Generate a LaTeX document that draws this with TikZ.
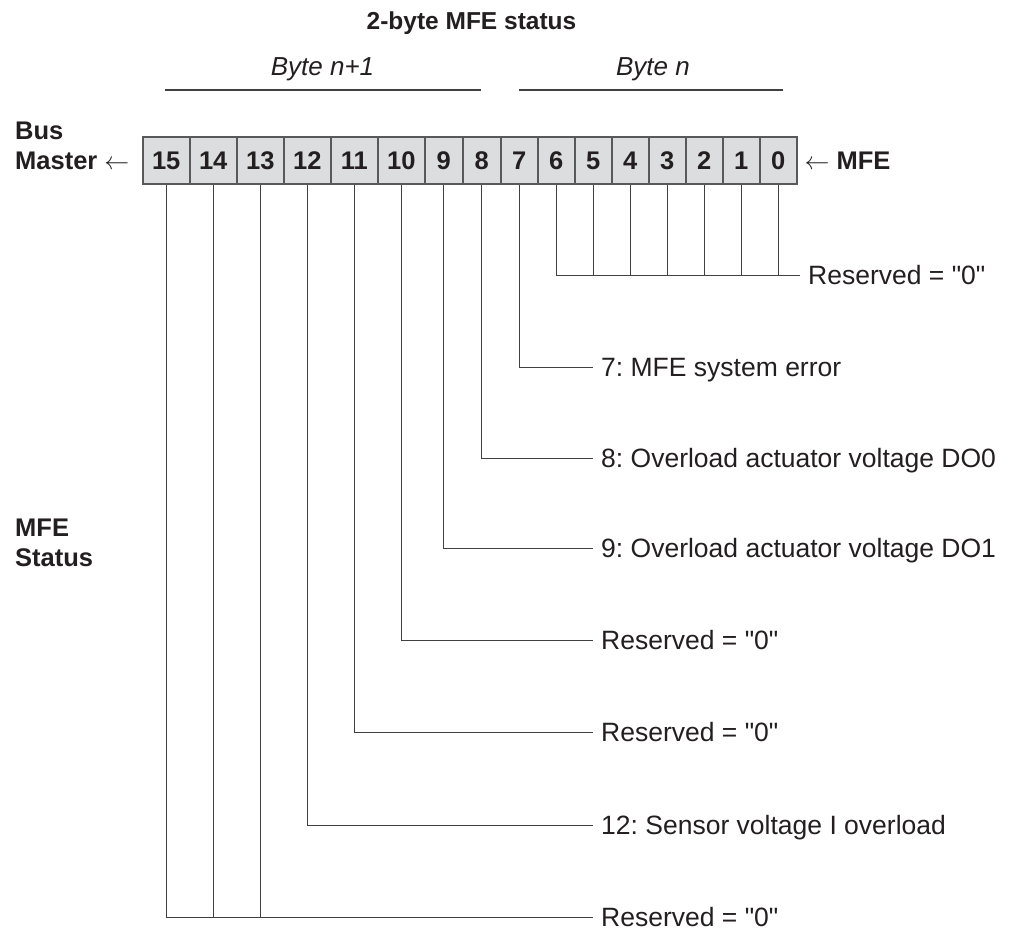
\documentclass[tikz,border=0pt]{standalone}
\usepackage{fontspec}
\setmainfont{Liberation Sans}
\definecolor{txt}{HTML}{231F20}
\definecolor{cellfill}{HTML}{DCDDDE}
\definecolor{cellline}{HTML}{58595B}
\definecolor{wire}{HTML}{404040}
\frenchspacing
\begin{document}
\begin{tikzpicture}[x=1pt,y=-1pt,
  cell/.style={draw=cellline, fill=cellfill, line width=1.5pt, minimum height=47pt,
    inner sep=0pt, anchor=west, text=txt,
    font=\fontsize{25.5}{30}\selectfont\bfseries, text height=18.3pt, text depth=0pt},
  lbl/.style={anchor=west, inner xsep=8pt, inner ysep=0pt, text=txt,
    font=\fontsize{26.5}{30}\selectfont, text height=19pt, text depth=0pt},
  side/.style={anchor=north west, inner sep=0pt, align=left, text=txt,
    font=\fontsize{25.5}{30}\selectfont\bfseries},
  head/.style={inner sep=0pt, text=txt, text depth=0pt},
  wireline/.style={draw=wire, line width=1pt},
  byteline/.style={draw=wire, line width=1.2pt}
]
\path[use as bounding box] (0,0) rectangle (1011,931);

% title and byte headers
\node[head, font=\fontsize{24.5}{30}\selectfont\bfseries, text height=17.6pt] (title) at (471.5,20.5) {2-byte MFE status};
\node[head, font=\fontsize{26}{30}\selectfont\itshape, text height=18.6pt] (bh) at (322.5,66) {Byte n+1};
\node[head, font=\fontsize{26}{30}\selectfont\itshape, text height=18.6pt] (bl) at (653,66) {Byte n};
\coordinate (bhs) at (165,90);
\coordinate (bhe) at (481,90);
\coordinate (bls) at (519,90);
\coordinate (ble) at (783,90);
\draw[byteline] (bhs) -- (bhe);
\draw[byteline] (bls) -- (ble);

% register cells
\foreach \b/\x/\w in {15/142/47,14/189/47,13/236/47,12/283/47,11/330/47,10/377/47,
  9/424/38,8/462/38,7/500/37,6/537/37,5/574/37,4/611/37,3/648/37,2/685/37,1/722/37,0/759/37}
  \node[cell, minimum width=\w pt] (c\b) at (\x,160.5) {\b};

% side labels
\node[side] (busmaster) at (15,121.7) {Bus\\Master {\mdseries$\leftarrow$}};
\node[head, anchor=west, inner xsep=7pt, text=txt, font=\fontsize{25.5}{30}\selectfont\bfseries, text height=18.3pt] (mfe) at (c0.east) {{\mdseries$\leftarrow$} MFE};
\node[side] (status) at (15,518.5) {MFE\\Status};

% bit labels
\node[lbl] (r0)  at (800,275) {Reserved = \textquotedbl0\textquotedbl};
\node[lbl] (l7)  at (593,367) {7: MFE system error};
\node[lbl] (l8)  at (593,458) {8: Overload actuator voltage DO0};
\node[lbl] (l9)  at (593,548) {9: Overload actuator voltage DO1};
\node[lbl] (r10) at (593,640) {Reserved = \textquotedbl0\textquotedbl};
\node[lbl] (r11) at (593,732) {Reserved = \textquotedbl0\textquotedbl};
\node[lbl] (l12) at (593,825) {12: Sensor voltage I overload};
\node[lbl] (r15) at (593,917) {Reserved = \textquotedbl0\textquotedbl};

% connectors
\draw[wireline] (c6.south) |- (r0.west);
\foreach \b in {5,4,3,2,1,0}
  \draw[wireline] (c\b.south) -- (c\b.south |- r0.west);
\draw[wireline] (c7.south) |- (l7.west);
\draw[wireline] (c8.south) |- (l8.west);
\draw[wireline] (c9.south) |- (l9.west);
\draw[wireline] (c10.south) |- (r10.west);
\draw[wireline] (c11.south) |- (r11.west);
\draw[wireline] (c12.south) |- (l12.west);
\draw[wireline] (c15.south) |- (r15.west);
\draw[wireline] (c14.south) -- (c14.south |- r15.west);
\draw[wireline] (c13.south) -- (c13.south |- r15.west);
\end{tikzpicture}
\end{document}
